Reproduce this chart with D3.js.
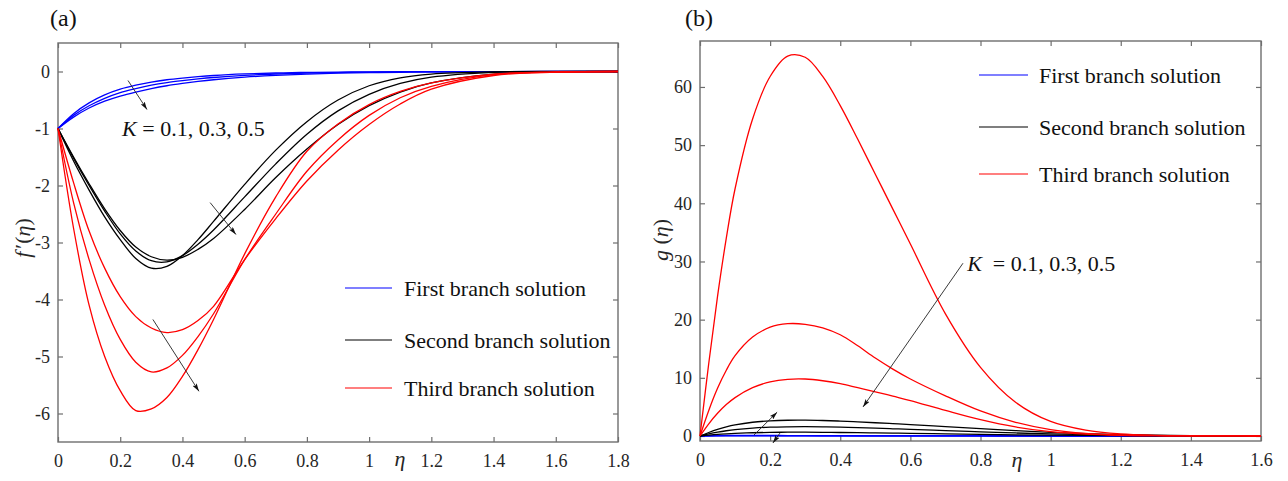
<!DOCTYPE html>
<html>
<head>
<meta charset="utf-8">
<script src="https://cdn.jsdelivr.net/npm/d3@7"></script>
<style>
  body { margin: 0; background: #fff; }
  svg { display: block; font-family: "Liberation Serif", "Times New Roman", serif; }
</style>
</head>
<body>
<svg id="chart" width="1288" height="481"></svg>
<script>
// ---- panel (a): f'(eta) ----
const etaA = [0, 0.05, 0.1, 0.15, 0.2, 0.25, 0.3, 0.35, 0.4, 0.45, 0.5, 0.6, 0.7, 0.8, 0.9, 1.0, 1.1, 1.2, 1.4, 1.6, 1.8];

const firstA_K01 = [-1, -0.74, -0.55, -0.41, -0.31, -0.24, -0.185, -0.145, -0.115, -0.09, -0.07, -0.043, -0.026, -0.016, -0.01, -0.006, -0.004, -0.002, -0.001, 0, 0];
const firstA_K03 = [-1, -0.77, -0.6, -0.47, -0.37, -0.3, -0.24, -0.195, -0.16, -0.13, -0.105, -0.068, -0.044, -0.028, -0.018, -0.011, -0.007, -0.004, -0.001, 0, 0];
const firstA_K05 = [-1, -0.8, -0.64, -0.52, -0.43, -0.36, -0.3, -0.25, -0.21, -0.175, -0.145, -0.1, -0.068, -0.046, -0.03, -0.02, -0.013, -0.008, -0.003, -0.001, 0];

const secondA_K01 = [-1, -1.57, -2.08, -2.55, -2.95, -3.28, -3.45, -3.42, -3.23, -2.95, -2.63, -1.98, -1.38, -0.88, -0.5, -0.25, -0.11, -0.045, -0.006, 0, 0];
const secondA_K03 = [-1, -1.52, -2.0, -2.45, -2.85, -3.15, -3.32, -3.34, -3.23, -3.03, -2.78, -2.2, -1.62, -1.1, -0.69, -0.4, -0.21, -0.1, -0.015, -0.002, 0];
const secondA_K05 = [-1, -1.5, -1.97, -2.41, -2.79, -3.08, -3.25, -3.31, -3.26, -3.12, -2.93, -2.42, -1.86, -1.36, -0.93, -0.6, -0.36, -0.2, -0.045, -0.008, 0];

const thirdA_K01 = [-1, -1.95, -2.8, -3.45, -3.95, -4.3, -4.5, -4.58, -4.53, -4.37, -4.12, -3.3, -2.58, -1.92, -1.38, -0.93, -0.57, -0.31, -0.07, -0.012, 0];
const thirdA_K03 = [-1, -2.3, -3.3, -4.1, -4.7, -5.1, -5.27, -5.2, -4.98, -4.65, -4.25, -3.3, -2.5, -1.75, -1.2, -0.77, -0.46, -0.26, -0.055, -0.01, 0];
const thirdA_K05 = [-1, -2.75, -4.1, -5.0, -5.6, -5.95, -5.92, -5.72, -5.35, -4.88, -4.35, -3.2, -2.2, -1.4, -0.92, -0.58, -0.35, -0.2, -0.045, -0.008, 0];

const xTicksA = [0, 0.2, 0.4, 0.6, 0.8, 1, 1.2, 1.4, 1.6, 1.8];
const yTicksA = [0, -1, -2, -3, -4, -5, -6];

// ---- panel (b): g(eta) ----
const etaB = [0, 0.025, 0.05, 0.075, 0.1, 0.15, 0.2, 0.25, 0.3, 0.35, 0.4, 0.45, 0.5, 0.55, 0.6, 0.7, 0.8, 0.9, 1.0, 1.1, 1.2, 1.3, 1.4, 1.5, 1.6];

const firstB_K01 = [0, 0.04, 0.07, 0.09, 0.1, 0.1, 0.09, 0.08, 0.07, 0.06, 0.05, 0.04, 0.03, 0.025, 0.02, 0.012, 0.008, 0.005, 0.003, 0.002, 0.001, 0, 0, 0, 0];
const firstB_K03 = [0, 0.03, 0.05, 0.06, 0.07, 0.07, 0.06, 0.055, 0.05, 0.04, 0.035, 0.03, 0.02, 0.018, 0.015, 0.01, 0.006, 0.004, 0.002, 0.001, 0, 0, 0, 0, 0];
const firstB_K05 = [0, 0.02, 0.03, 0.04, 0.045, 0.045, 0.04, 0.035, 0.03, 0.025, 0.02, 0.018, 0.015, 0.012, 0.01, 0.006, 0.004, 0.002, 0.001, 0, 0, 0, 0, 0, 0];

const secondB_K01 = [0, 0.15, 0.28, 0.38, 0.46, 0.56, 0.62, 0.65, 0.65, 0.63, 0.6, 0.57, 0.53, 0.49, 0.45, 0.37, 0.29, 0.21, 0.14, 0.09, 0.05, 0.03, 0.01, 0, 0];
const secondB_K03 = [0, 0.35, 0.65, 0.9, 1.1, 1.37, 1.52, 1.58, 1.6, 1.57, 1.51, 1.43, 1.34, 1.24, 1.14, 0.93, 0.72, 0.52, 0.35, 0.22, 0.13, 0.07, 0.03, 0.01, 0];
const secondB_K05 = [0, 0.6, 1.13, 1.56, 1.9, 2.36, 2.6, 2.71, 2.72, 2.66, 2.56, 2.43, 2.28, 2.12, 1.96, 1.62, 1.27, 0.93, 0.63, 0.4, 0.24, 0.13, 0.06, 0.02, 0];

const thirdB_K01 = [0, 12.5, 24, 34, 42.5, 54.5, 61.8, 65.3, 65.1, 61.8, 56.8, 51.0, 45.0, 39.0, 33.0, 21.0, 11.8, 5.8, 2.5, 1.0, 0.35, 0.12, 0.04, 0.01, 0];
const thirdB_K03 = [0, 4.4, 8.2, 11.3, 13.8, 17.0, 18.7, 19.3, 19.2, 18.6, 17.4, 15.5, 13.4, 11.5, 9.8, 6.9, 4.3, 2.35, 1.1, 0.45, 0.17, 0.06, 0.02, 0.01, 0];
const thirdB_K05 = [0, 2.1, 3.9, 5.4, 6.6, 8.3, 9.3, 9.75, 9.8, 9.5, 9.0, 8.3, 7.6, 6.85, 6.1, 4.4, 2.8, 1.55, 0.75, 0.32, 0.12, 0.05, 0.02, 0.01, 0];

const xTicksB = [0, 0.2, 0.4, 0.6, 0.8, 1, 1.2, 1.4, 1.6];
const yTicksB = [0, 10, 20, 30, 40, 50, 60];

const legendLabels = ['First branch solution', 'Second branch solution', 'Third branch solution'];
const branchColors = ['#0000ff', '#000000', '#ff0000'];

const svg = d3.select('#chart');
const fontTick = 18;
const axisColor = '#6e6e6e';

svg.append('defs').append('marker')
    .attr('id', 'arrow')
    .attr('viewBox', '0 0 10 6')
    .attr('refX', 10)
    .attr('refY', 3)
    .attr('markerWidth', 8)
    .attr('markerHeight', 5)
    .attr('markerUnits', 'userSpaceOnUse')
    .attr('orient', 'auto')
    .append('path')
    .attr('d', 'M0,0 L10,3 L0,6 L2,3 Z')
    .attr('fill', '#111');

const numFmt = d => (d < 0 ? '-' : '') + d3.format('~g')(Math.abs(d));

function panel(opt) {
    const g = svg.append('g');
    const x = d3.scaleLinear().domain(opt.xDomain).range([opt.left, opt.right]);
    const y = d3.scaleLinear().domain(opt.yDomain).range([opt.bottom, opt.top]);

    const styleAxis = sel => {
        sel.select('.domain').remove();
        sel.selectAll('line').attr('stroke', axisColor).attr('stroke-width', 1.2);
        sel.selectAll('text')
            .attr('font-size', fontTick)
            .attr('font-family', '"Liberation Serif", "Times New Roman", serif')
            .attr('fill', '#262626');
    };

    g.append('g').attr('transform', `translate(0,${opt.bottom})`)
        .call(d3.axisBottom(x).tickValues(opt.xTicks).tickFormat(numFmt).tickSizeInner(-5).tickSizeOuter(0).tickPadding(12))
        .call(styleAxis);
    g.append('g').attr('transform', `translate(0,${opt.top})`)
        .call(d3.axisTop(x).tickValues(opt.xTicks).tickFormat('').tickSizeInner(-5).tickSizeOuter(0))
        .call(styleAxis);
    g.append('g').attr('transform', `translate(${opt.left},0)`)
        .call(d3.axisLeft(y).tickValues(opt.yTicks).tickFormat(numFmt).tickSizeInner(-5).tickSizeOuter(0).tickPadding(8))
        .call(styleAxis);
    g.append('g').attr('transform', `translate(${opt.right},0)`)
        .call(d3.axisRight(y).tickValues(opt.yTicks).tickFormat('').tickSizeInner(-5).tickSizeOuter(0))
        .call(styleAxis);

    g.append('rect')
        .attr('x', opt.left).attr('y', opt.top)
        .attr('width', opt.right - opt.left).attr('height', opt.bottom - opt.top)
        .attr('fill', 'none').attr('stroke', axisColor).attr('stroke-width', 1.4);

    const line = d3.line()
        .x(d => x(d[0]))
        .y(d => y(d[1]))
        .curve(d3.curveCatmullRom.alpha(0.5));

    opt.series.forEach(s => {
        g.append('path')
            .datum(opt.eta.map((e, i) => [e, s.values[i]]))
            .attr('d', line)
            .attr('fill', 'none')
            .attr('stroke', branchColors[s.branch])
            .attr('stroke-width', 1.3);
    });

    opt.arrows.forEach(a => {
        g.append('line')
            .attr('x1', x(a[0])).attr('y1', y(a[1]))
            .attr('x2', x(a[2])).attr('y2', y(a[3]))
            .attr('stroke', '#222').attr('stroke-width', 0.9)
            .attr('marker-end', 'url(#arrow)');
    });

    // legend
    legendLabels.forEach((lab, i) => {
        const ly = opt.legend.ys[i];
        g.append('line')
            .attr('x1', opt.legend.x1).attr('x2', opt.legend.x2)
            .attr('y1', ly).attr('y2', ly)
            .attr('stroke', branchColors[i]).attr('stroke-width', 1.1);
        g.append('text')
            .attr('x', opt.legend.tx).attr('y', ly + 7.5)
            .attr('font-size', 22).attr('fill', '#111')
            .text(lab);
    });

    // K annotation
    const kt = g.append('text')
        .attr('x', x(opt.kLabel[0])).attr('y', y(opt.kLabel[1]))
        .attr('font-size', 22).attr('fill', '#111');
    kt.append('tspan').attr('font-style', 'italic').text('K');
    kt.append('tspan').attr('xml:space', 'preserve').text(opt.kText);

    // panel tag
    g.append('text').attr('x', opt.tag[0]).attr('y', opt.tag[1])
        .attr('font-size', 24).attr('fill', '#111').text(opt.tagText);

    // x label
    g.append('text').attr('x', opt.xLabel[0]).attr('y', opt.xLabel[1])
        .attr('font-size', 22).attr('font-style', 'italic').attr('fill', '#262626')
        .attr('text-anchor', 'middle').text('η');

    // y label
    const yl = g.append('text')
        .attr('transform', `translate(${opt.yLabel[0]},${opt.yLabel[1]}) rotate(-90)`)
        .attr('font-size', 22).attr('fill', '#262626').attr('text-anchor', 'middle');
    opt.yLabelParts.forEach(p => {
        yl.append('tspan')
            .attr('font-style', p[1] ? 'italic' : 'normal')
            .attr('dx', p[2] || 0)
            .text(p[0]);
    });

    return { x, y };
}

panel({
    left: 58, right: 618, top: 43, bottom: 442,
    xDomain: [0, 1.8], yDomain: [-6.5, 0.5],
    xTicks: xTicksA, yTicks: yTicksA,
    eta: etaA,
    series: [
        { branch: 0, values: firstA_K01 }, { branch: 0, values: firstA_K03 }, { branch: 0, values: firstA_K05 },
        { branch: 1, values: secondA_K01 }, { branch: 1, values: secondA_K03 }, { branch: 1, values: secondA_K05 },
        { branch: 2, values: thirdA_K01 }, { branch: 2, values: thirdA_K03 }, { branch: 2, values: thirdA_K05 }
    ],
    arrows: [
        [0.225, -0.158, 0.286, -0.667],
        [0.489, -2.30, 0.572, -2.86],
        [0.305, -4.35, 0.453, -5.61]
    ],
    legend: { x1: 345, x2: 392, tx: 404, ys: [288, 340, 388] },
    kLabel: [0.206, -1.14], kText: ' = 0.1, 0.3, 0.5',
    tag: [50, 26], tagText: '(a)',
    xLabel: [400, 466],
    yLabel: [30, 238],
    yLabelParts: [['f', true], ['′', false, 3], ['(', false], ['η', true], [')', false]]
});

panel({
    left: 700, right: 1261, top: 41, bottom: 441,
    xDomain: [0, 1.6], yDomain: [-0.86, 67.9],
    xTicks: xTicksB, yTicks: yTicksB,
    eta: etaB,
    series: [
        { branch: 0, values: firstB_K01 }, { branch: 0, values: firstB_K03 }, { branch: 0, values: firstB_K05 },
        { branch: 1, values: secondB_K01 }, { branch: 1, values: secondB_K03 }, { branch: 1, values: secondB_K05 },
        { branch: 2, values: thirdB_K01 }, { branch: 2, values: thirdB_K03 }, { branch: 2, values: thirdB_K05 }
    ],
    arrows: [
        [0.750, 29.7, 0.465, 5.0],
        [0.154, 0.17, 0.22, 4.1],
        [0.228, 0.5, 0.208, -1.2]
    ],
    legend: { x1: 979, x2: 1028, tx: 1039, ys: [75, 127, 174] },
    kLabel: [0.762, 28.35], kText: '  = 0.1, 0.3, 0.5',
    tag: [685, 26], tagText: '(b)',
    xLabel: [1017, 467],
    yLabel: [668, 240],
    yLabelParts: [['g', true], [' (', false], ['η', true], [')', false]]
});
</script>
</body>
</html>
